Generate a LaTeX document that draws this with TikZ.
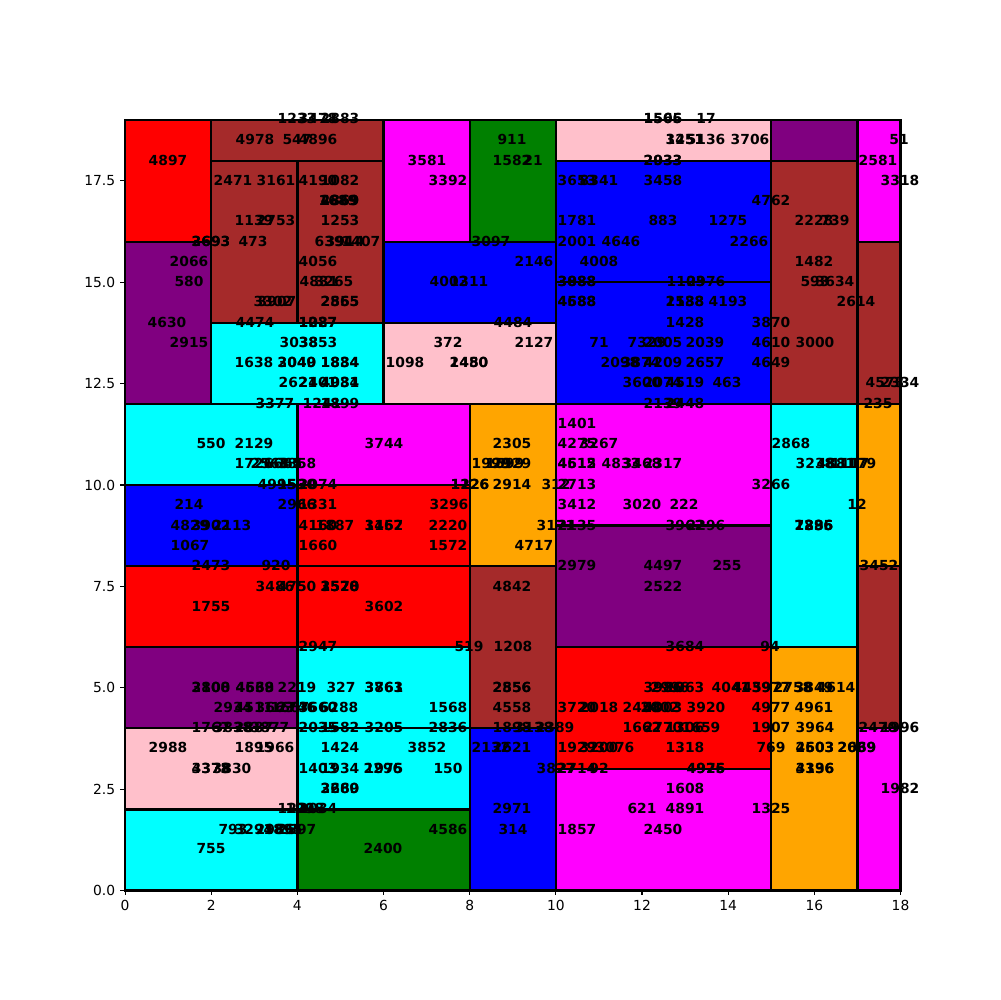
\documentclass[tikz,border=0pt]{standalone}
\usepackage{fontspec}
\setmainfont{DejaVu Sans}
\definecolor{mred}{HTML}{FF0000}
\definecolor{mpurple}{HTML}{800080}
\definecolor{mbrown}{HTML}{A52A2A}
\definecolor{mcyan}{HTML}{00FFFF}
\definecolor{mblue}{HTML}{0000FF}
\definecolor{mpink}{HTML}{FFC0CB}
\definecolor{mmagenta}{HTML}{FF00FF}
\definecolor{mgreen}{HTML}{008000}
\definecolor{morange}{HTML}{FFA500}
\tikzset{
  lbl/.style={font=\fontsize{10}{12}\selectfont\bfseries, inner sep=0pt, anchor=center, text height=0.74em, text depth=0.2em, yshift=-1.5pt},
  cell/.style={draw=black, line width=1.6pt},
  ticklbl/.style={font=\fontsize{10}{12}\selectfont, inner sep=0pt},
  tickmark/.style={line width=0.8pt}
}
\newcounter{labc}
\newcommand\lab[3]{\stepcounter{labc}\node[lbl] (t\arabic{labc}) at (#1,#2) {#3};}
\begin{document}
\begin{tikzpicture}[x=0.01in, y=-0.01in]
\fill[white] (0,0) rectangle (1000,1000);
\path[use as bounding box] (0,0) rectangle (1000,1000);
\begin{scope}[shift={(1.25in,-8.9in)}, x=0.430556in, y=0.405263in]
  \draw[cell, fill=mred] (0,16) rectangle (2,19);
  \draw[cell, fill=mpurple] (0,12) rectangle (2,16);
  \draw[cell, fill=mbrown] (2,18) rectangle (6,19);
  \draw[cell, fill=mbrown] (2,14) rectangle (4,18);
  \draw[cell, fill=mbrown] (4,14) rectangle (6,18);
  \draw[cell, fill=mcyan] (2,12) rectangle (6,14);
  \draw[cell, fill=mmagenta] (6,16) rectangle (8,19);
  \draw[cell, fill=mgreen] (8,16) rectangle (10,19);
  \draw[cell, fill=mblue] (6,14) rectangle (10,16);
  \draw[cell, fill=mpink] (6,12) rectangle (10,14);
  \draw[cell, fill=mpink] (10,18) rectangle (15,19);
  \draw[cell, fill=mblue] (10,15) rectangle (15,18);
  \draw[cell, fill=mblue] (10,12) rectangle (15,15);
  \draw[cell, fill=mpurple] (15,18) rectangle (17,19);
  \draw[cell, fill=mbrown] (15,12) rectangle (17,18);
  \draw[cell, fill=mmagenta] (17,16) rectangle (18,19);
  \draw[cell, fill=mbrown] (17,12) rectangle (18,16);
  \draw[cell, fill=mcyan] (0,10) rectangle (4,12);
  \draw[cell, fill=mblue] (0,8) rectangle (4,10);
  \draw[cell, fill=mred] (0,6) rectangle (4,8);
  \draw[cell, fill=mpurple] (0,4) rectangle (4,6);
  \draw[cell, fill=mpink] (0,2) rectangle (4,4);
  \draw[cell, fill=mcyan] (0,0) rectangle (4,2);
  \draw[cell, fill=mmagenta] (4,10) rectangle (8,12);
  \draw[cell, fill=mred] (4,8) rectangle (8,10);
  \draw[cell, fill=mred] (4,6) rectangle (8,8);
  \draw[cell, fill=mcyan] (4,4) rectangle (8,6);
  \draw[cell, fill=mcyan] (4,2) rectangle (8,4);
  \draw[cell, fill=mgreen] (4,0) rectangle (8,2);
  \draw[cell, fill=morange] (8,8) rectangle (10,12);
  \draw[cell, fill=mbrown] (8,4) rectangle (10,8);
  \draw[cell, fill=mblue] (8,0) rectangle (10,4);
  \draw[cell, fill=mmagenta] (10,9) rectangle (15,12);
  \draw[cell, fill=mpurple] (10,6) rectangle (15,9);
  \draw[cell, fill=mred] (10,3) rectangle (15,6);
  \draw[cell, fill=mmagenta] (10,0) rectangle (15,3);
  \draw[cell, fill=mcyan] (15,6) rectangle (17,12);
  \draw[cell, fill=morange] (15,0) rectangle (17,6);
  \draw[cell, fill=morange] (17,8) rectangle (18,12);
  \draw[cell, fill=mbrown] (17,4) rectangle (18,8);
  \draw[cell, fill=mmagenta] (17,0) rectangle (18,4);
  % axes frame
  \draw[tickmark] (0,0) rectangle (18,19);
  \foreach \v in {0,2,...,18}{
    \draw[tickmark] (\v,0) -- ++(0,-3.5pt);
    \node[ticklbl, anchor=north] (xt\v) at ([yshift=-7pt]\v,0) {\v};
  }
  \foreach \v/\t in {0/0.0,2.5/2.5,5/5.0,7.5/7.5,10/10.0,12.5/12.5,15/15.0,17.5/17.5}{
    \draw[tickmark] (0,\v) -- ++(-3.5pt,0);
    \node[ticklbl, anchor=east] (yt\t) at ([xshift=-7pt]0,\v) {\t};
  }
\end{scope}
% labels in pixel coordinates
\lab{297}{118}{1233}\lab{318}{118}{3478}\lab{340}{118}{2883}\lab{663}{118}{1565}\lab{663}{118}{1506}\lab{706}{118}{17}
\lab{255}{139}{4978}\lab{297}{139}{547}\lab{318}{139}{4896}\lab{512}{139}{911}\lab{685}{139}{3451}\lab{685}{139}{1251}\lab{706}{139}{5136}\lab{750}{139}{3706}\lab{899}{139}{51}
\lab{168}{160}{4897}\lab{427}{160}{3581}\lab{512}{160}{1582}\lab{533}{160}{21}\lab{663}{160}{2933}\lab{663}{160}{2033}\lab{878}{160}{2581}
\lab{233}{180}{2471}\lab{276}{180}{3161}\lab{318}{180}{4190}\lab{340}{180}{1082}\lab{448}{180}{3392}\lab{577}{180}{3653}\lab{599}{180}{8341}\lab{663}{180}{3458}\lab{900}{180}{3318}
\lab{340}{200}{4369}\lab{340}{200}{2869}\lab{338}{200}{1689}\lab{771}{200}{4762}
\lab{254}{220}{1139}\lab{276}{220}{2753}\lab{340}{220}{1253}\lab{577}{220}{1781}\lab{663}{220}{883}\lab{728}{220}{1275}\lab{814}{220}{2228}\lab{835}{220}{739}
\lab{211}{241}{3693}\lab{211}{241}{2693}\lab{253}{241}{473}\lab{334}{241}{6394}\lab{345}{241}{3914}\lab{361}{241}{1407}\lab{491}{241}{3097}\lab{577}{241}{2001}\lab{621}{241}{4646}\lab{749}{241}{2266}
\lab{189}{261}{2066}\lab{318}{261}{4056}\lab{534}{261}{2146}\lab{599}{261}{4008}\lab{814}{261}{1482}
\lab{189}{281}{580}\lab{319}{281}{4831}\lab{334}{281}{3265}\lab{449}{281}{4002}\lab{469}{281}{1311}\lab{577}{281}{3088}\lab{577}{281}{3888}\lab{686}{281}{1103}\lab{706}{281}{2976}\lab{815}{281}{593}\lab{835}{281}{3634}
\lab{273}{301}{3302}\lab{277}{301}{3907}\lab{340}{301}{2565}\lab{340}{301}{2855}\lab{577}{301}{4688}\lab{577}{301}{4588}\lab{685}{301}{2188}\lab{685}{301}{1538}\lab{728}{301}{4193}\lab{856}{301}{2614}
\lab{167}{322}{4630}\lab{255}{322}{4474}\lab{318}{322}{1027}\lab{318}{322}{1287}\lab{513}{322}{4484}\lab{685}{322}{1428}\lab{771}{322}{3870}
\lab{189}{342}{2915}\lab{299}{342}{3038}\lab{318}{342}{3853}\lab{448}{342}{372}\lab{534}{342}{2127}\lab{599}{342}{71}\lab{647}{342}{7329}\lab{663}{342}{2005}\lab{705}{342}{2039}\lab{771}{342}{4610}\lab{815}{342}{3000}
\lab{254}{362}{1638}\lab{297}{362}{2040}\lab{297}{362}{3049}\lab{340}{362}{1884}\lab{340}{362}{1834}\lab{405}{362}{1098}\lab{469}{362}{2480}\lab{469}{362}{1450}\lab{620}{362}{2098}\lab{641}{362}{3874}\lab{663}{362}{4209}\lab{705}{362}{2657}\lab{771}{362}{4649}
\lab{298}{382}{2621}\lab{318}{382}{2401}\lab{340}{382}{4981}\lab{340}{382}{4034}\lab{642}{382}{3600}\lab{663}{382}{2074}\lab{685}{382}{4519}\lab{727}{382}{463}\lab{885}{382}{4573}\lab{900}{382}{2334}
\lab{275}{403}{3377}\lab{322}{403}{1241}\lab{340}{403}{1899}\lab{663}{403}{2139}\lab{685}{403}{2448}\lab{878}{403}{235}
\lab{577}{423}{1401}
\lab{211}{443}{550}\lab{254}{443}{2129}\lab{384}{443}{3744}\lab{512}{443}{2305}\lab{577}{443}{4275}\lab{599}{443}{3267}\lab{791}{443}{2868}
\lab{254}{463}{1726}\lab{270}{463}{2568}\lab{283}{463}{1665}\lab{297}{463}{3858}\lab{491}{463}{1999}\lab{505}{463}{1599}\lab{512}{463}{2929}\lab{577}{463}{4612}\lab{577}{463}{4515}\lab{621}{463}{4833}\lab{642}{463}{3468}\lab{663}{463}{2317}\lab{815}{463}{3238}\lab{836}{463}{4881}\lab{850}{463}{1117}\lab{857}{463}{1179}
\lab{277}{484}{4995}\lab{297}{484}{1530}\lab{318}{484}{2074}\lab{470}{484}{1226}\lab{470}{484}{1126}\lab{512}{484}{2914}\lab{556}{484}{312}\lab{577}{484}{2713}\lab{771}{484}{3266}
\lab{189}{504}{214}\lab{297}{504}{2966}\lab{318}{504}{1331}\lab{449}{504}{3296}\lab{577}{504}{3412}\lab{642}{504}{3020}\lab{684}{504}{222}\lab{857}{504}{12}
\lab{190}{525}{4829}\lab{211}{525}{3902}\lab{232}{525}{2113}\lab{318}{525}{4160}\lab{335}{525}{1887}\lab{384}{525}{3157}\lab{384}{525}{1462}\lab{448}{525}{2220}\lab{556}{525}{3171}\lab{577}{525}{2135}\lab{685}{525}{3962}\lab{706}{525}{2296}\lab{814}{525}{2296}\lab{814}{525}{7885}\lab{814}{525}{1336}
\lab{190}{545}{1067}\lab{318}{545}{1660}\lab{448}{545}{1572}\lab{534}{545}{4717}
\lab{211}{565}{2473}\lab{276}{565}{920}\lab{577}{565}{2979}\lab{663}{565}{4497}\lab{727}{565}{255}\lab{879}{565}{3452}
\lab{275}{586}{3486}\lab{297}{586}{4750}\lab{340}{586}{2578}\lab{340}{586}{1520}\lab{340}{586}{3570}\lab{512}{586}{4842}\lab{663}{586}{2522}
\lab{211}{606}{1755}\lab{384}{606}{3602}
\lab{318}{646}{2947}\lab{469}{646}{519}\lab{513}{646}{1208}\lab{685}{646}{3684}\lab{770}{646}{94}
\lab{211}{687}{2808}\lab{211}{687}{3100}\lab{255}{687}{4539}\lab{255}{687}{4668}\lab{297}{687}{2219}\lab{341}{687}{327}\lab{384}{687}{3763}\lab{384}{687}{3861}\lab{512}{687}{2856}\lab{512}{687}{2556}\lab{663}{687}{3986}\lab{670}{687}{2996}\lab{685}{687}{1063}\lab{731}{687}{4041}\lab{752}{687}{4459}\lab{771}{687}{3977}\lab{793}{687}{2758}\lab{814}{687}{3849}\lab{836}{687}{4614}
\lab{233}{707}{2934}\lab{254}{707}{4511}\lab{275}{707}{3663}\lab{290}{707}{1667}\lab{297}{707}{2746}\lab{318}{707}{3660}\lab{339}{707}{6288}\lab{448}{707}{1568}\lab{512}{707}{4558}\lab{577}{707}{3720}\lab{599}{707}{2018}\lab{642}{707}{2458}\lab{663}{707}{4003}\lab{660}{707}{2002}\lab{706}{707}{3920}\lab{771}{707}{4977}\lab{814}{707}{4961}
\lab{211}{727}{1767}\lab{233}{727}{3838}\lab{254}{727}{2887}\lab{270}{727}{3877}\lab{318}{727}{2035}\lab{340}{727}{1582}\lab{384}{727}{3205}\lab{448}{727}{2836}\lab{512}{727}{1898}\lab{534}{727}{3138}\lab{555}{727}{2389}\lab{642}{727}{1662}\lab{663}{727}{2770}\lab{685}{727}{1306}\lab{701}{727}{1659}\lab{771}{727}{1907}\lab{815}{727}{3964}\lab{878}{727}{2470}\lab{900}{727}{1996}
\lab{168}{747}{2988}\lab{254}{747}{1895}\lab{275}{747}{1966}\lab{340}{747}{1424}\lab{427}{747}{3852}\lab{491}{747}{2132}\lab{512}{747}{2621}\lab{577}{747}{1929}\lab{599}{747}{3200}\lab{615}{747}{3076}\lab{685}{747}{1318}\lab{771}{747}{769}\lab{815}{747}{4503}\lab{815}{747}{2603}\lab{857}{747}{2039}\lab{857}{747}{2669}
\lab{211}{768}{4378}\lab{211}{768}{3373}\lab{232}{768}{3830}\lab{318}{768}{1403}\lab{340}{768}{1934}\lab{383}{768}{2296}\lab{384}{768}{1975}\lab{448}{768}{150}\lab{556}{768}{3827}\lab{577}{768}{2714}\lab{599}{768}{92}\lab{706}{768}{4976}\lab{706}{768}{4925}\lab{815}{768}{4196}\lab{815}{768}{3336}
\lab{340}{788}{2289}\lab{340}{788}{3660}\lab{685}{788}{1608}\lab{900}{788}{1982}
\lab{297}{808}{1221}\lab{318}{808}{2034}\lab{305}{808}{1298}\lab{512}{808}{2971}\lab{642}{808}{621}\lab{685}{808}{4891}\lab{771}{808}{1325}
\lab{233}{829}{793}\lab{254}{829}{3294}\lab{275}{829}{2986}\lab{283}{829}{1895}\lab{297}{829}{2597}\lab{448}{829}{4586}\lab{513}{829}{314}\lab{577}{829}{1857}\lab{663}{829}{2450}
\lab{211}{848}{755}\lab{383}{848}{2400}
\end{tikzpicture}
\end{document}
